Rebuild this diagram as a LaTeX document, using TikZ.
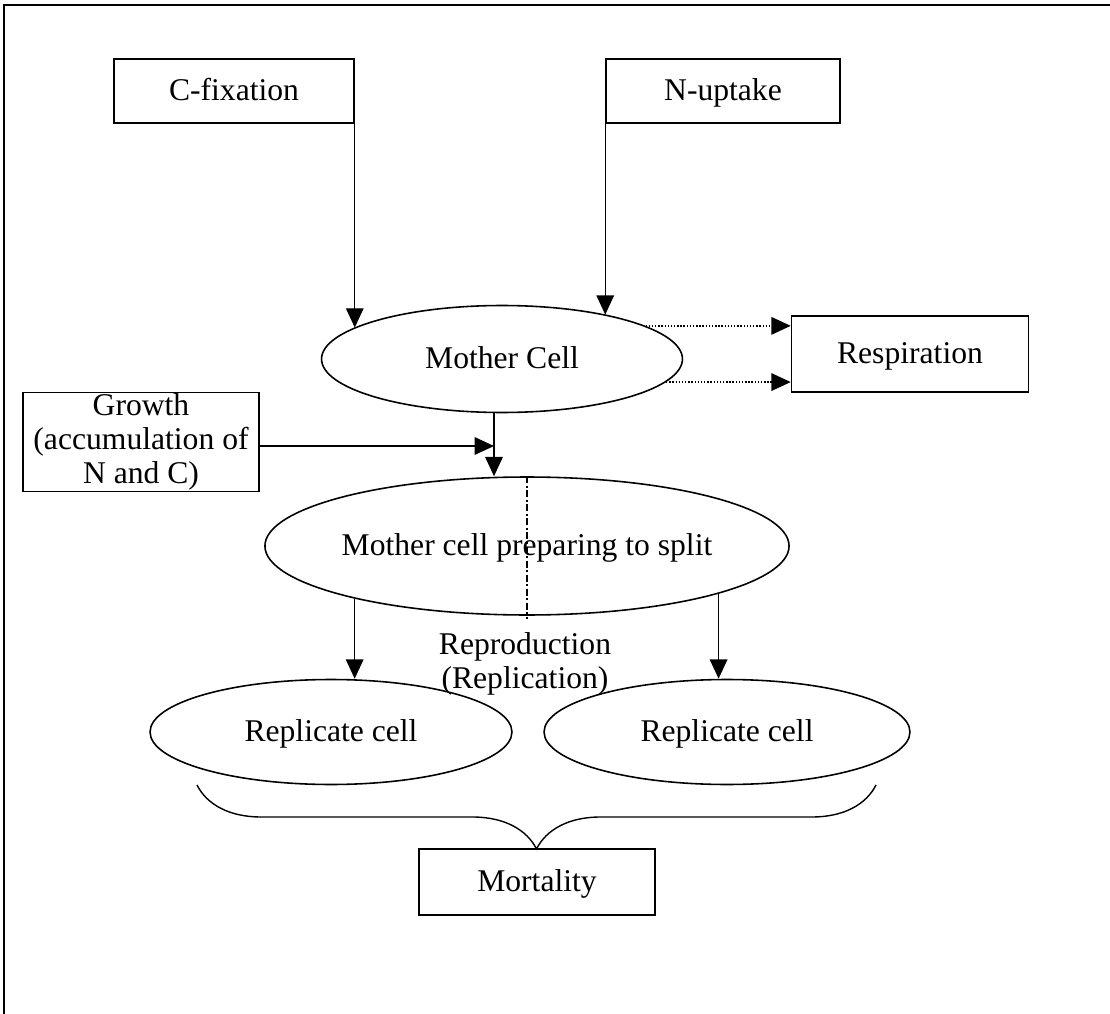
\documentclass[tikz,border=0pt]{standalone}
\usepackage{fontspec}
\setmainfont{Liberation Serif}
\usetikzlibrary{positioning, shapes.geometric, arrows.meta, decorations.pathreplacing}

\begin{document}
\begin{tikzpicture}[x=0.02cm,y=-0.02cm,font=\fontsize{18}{19.5}\selectfont]
	\tikzstyle{box}=[rectangle,draw=black,line width=0.9pt,inner sep=0pt,align=center]
	\tikzstyle{oneline}=[text height=13pt,text depth=2pt]
	\tikzstyle{cell}=[ellipse,draw=black,line width=0.9pt,inner sep=0pt,oneline]
	\tikzstyle{arr}=[-{Triangle[length=11pt,width=10pt]},line width=0.8pt]
	\useasboundingbox (0,0) rectangle (1110,1014);
	% frame
	\draw[line width=1.1pt] (4,1014) -- (4,5) -- (1110,5);
	% inputs
	\node[box,oneline,minimum width=4.8cm,minimum height=1.28cm](cfix) at (234,91) {C-fixation};
	\node[box,oneline,minimum width=4.68cm,minimum height=1.28cm](nup) at (723,91) {N-uptake};
	\node[box,oneline,minimum width=4.74cm,minimum height=1.52cm](resp) at (910,354) {Respiration};
	\node[box,minimum width=4.72cm,minimum height=1.98cm](growth) at (141,442) {Growth\\(accumulation of\\N and C)};
	% cells
	\node[cell,minimum width=7.22cm,minimum height=2.14cm](mother) at (502,359) {Mother Cell};
	\node[cell,minimum width=10.14cm,minimum height=2.76cm](split) at (527,546) {Mother cell preparing to split};
	\node[cell,minimum width=7.24cm,minimum height=2.1cm](rep1) at (331,732) {Replicate cell};
	\node[cell,minimum width=7.32cm,minimum height=2.1cm](rep2) at (727,732) {Replicate cell};
	\node[align=center](repro) at (525,664) {Reproduction\\(Replication)};
	\node[box,oneline,minimum width=4.72cm,minimum height=1.32cm](mort) at (537,882) {Mortality};
	\coordinate (join) at (494,446);
	\coordinate (bl) at (197,785);
	\coordinate (br) at (876,785);
	% connectors
	\draw[arr] (cfix.south east) -- (cfix.south east |- mother.168);
	\draw[arr] (nup.south west) -- (nup.south west |- mother.23);
	\draw[arr,densely dotted] (mother.13) -- (mother.13 -| resp.west);
	\draw[arr,densely dotted] (mother.-8) -- (mother.-8 -| resp.west);
	\draw[arr] (growth.east |- join) -- (join);
	\draw[arr] (join |- mother.south) -- (join |- split.north);
	\draw[line width=0.8pt,dash pattern=on 4pt off 1.5pt on 1pt off 1.5pt] (split.north) -- ([yshift=-2pt]split.south);
	\draw[arr] (split.197.5) -- (split.197.5 |- rep1.north);
	\draw[arr] (split.-14) -- (split.-14 |- rep2.north);
	\draw[decorate,decoration={brace,mirror,amplitude=1.28cm},line width=0.8pt] (bl) -- (br);
\end{tikzpicture}
\end{document}
